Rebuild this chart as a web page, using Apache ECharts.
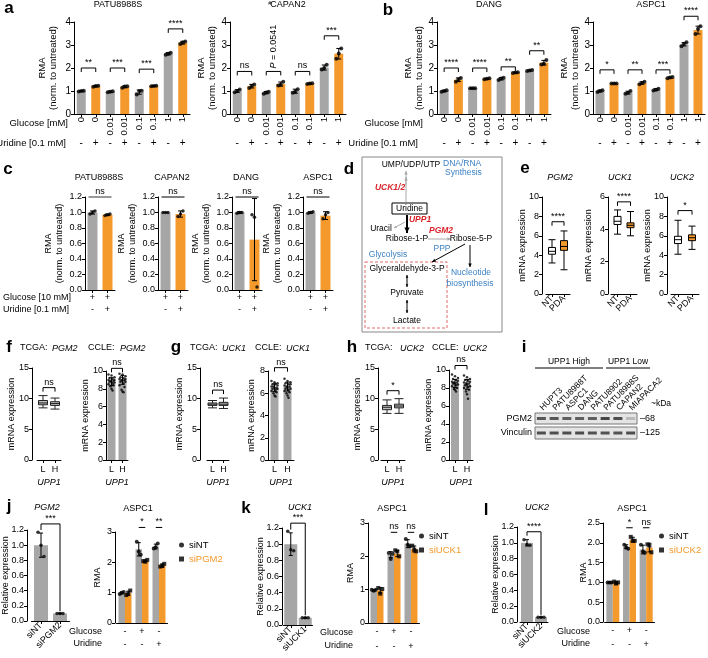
<!DOCTYPE html>
<html>
<head>
<meta charset="utf-8">
<script src="https://cdn.jsdelivr.net/npm/echarts@6/dist/echarts.min.js"></script>
<style>
html, body { margin: 0; padding: 0; background: #fff; }
#main { width: 708px; height: 658px; }
</style>
</head>
<body>
<div id="main"></div>
<script>
// ---------- data ----------
// a / b : RMA against glucose, +/- uridine
const glucoseCats = ['0', '0', '0.01', '0.01', '0.1', '0.1', '1', '1'];
const uridineSigns = ['-', '+', '-', '+', '-', '+', '-', '+'];

const patuMean = [1.00, 1.21, 0.97, 1.18, 0.95, 1.22, 2.62, 3.10];
const patuSd = [0.02, 0.03, 0.03, 0.04, 0.09, 0.02, 0.05, 0.06];
const patuPts = [[0.98, 1.00, 1.01], [1.18, 1.22, 1.23], [0.95, 0.97, 0.99], [1.14, 1.20, 1.21], [0.85, 1.00, 1.01], [1.21, 1.22, 1.23], [2.58, 2.62, 2.66], [3.04, 3.11, 3.15]];
const patuSig = [[0, 1, 2.0, '**'], [2, 3, 2.0, '***'], [4, 5, 1.95, '***'], [6, 7, 3.7, '****']];

const capanMean = [1.00, 1.21, 0.93, 1.30, 0.99, 1.32, 2.02, 2.62];
const capanSd = [0.06, 0.08, 0.05, 0.09, 0.09, 0.02, 0.11, 0.23];
const capanPts = [[0.95, 1.00, 1.06], [1.13, 1.22, 1.28], [0.88, 0.94, 0.97], [1.24, 1.28, 1.40], [0.92, 0.98, 1.08], [1.30, 1.33, 1.34], [1.93, 2.00, 2.14], [2.40, 2.63, 2.85]];
const capanSig = [[0, 1, 1.85, 'ns'], [2, 3, 1.85, 'P = 0.0541'], [4, 5, 1.85, 'ns'], [6, 7, 3.4, '***']];

const dangMean = [1.00, 1.49, 1.12, 1.53, 1.53, 1.80, 1.89, 2.23];
const dangSd = [0.03, 0.08, 0.01, 0.02, 0.05, 0.02, 0.02, 0.10];
const dangPts = [[0.97, 1.00, 1.03], [1.40, 1.50, 1.57], [1.12, 1.12, 1.12], [1.51, 1.53, 1.55], [1.48, 1.54, 1.58], [1.78, 1.80, 1.82], [1.87, 1.89, 1.91], [2.15, 2.18, 2.35]];
const dangSig = [[0, 1, 2.0, '****'], [2, 3, 2.0, '****'], [4, 5, 2.05, '**'], [6, 7, 2.75, '**']];

const aspcMean = [1.00, 1.33, 0.93, 1.35, 1.06, 1.58, 3.03, 3.65];
const aspcSd = [0.04, 0.01, 0.06, 0.05, 0.04, 0.03, 0.07, 0.17];
const aspcPts = [[0.96, 1.00, 1.03], [1.33, 1.33, 1.33], [0.88, 0.92, 1.00], [1.29, 1.35, 1.40], [1.02, 1.05, 1.10], [1.55, 1.59, 1.61], [2.95, 3.05, 3.12], [3.48, 3.70, 3.82]];
const aspcSig = [[0, 1, 1.92, '*'], [2, 3, 1.92, '**'], [4, 5, 1.92, '***'], [6, 7, 4.25, '****']];

// c : 10 mM glucose
const cGlucose = ['+', '+'];
const cUridine = ['-', '+'];
const cPatuMean = [1.00, 0.97], cPatuSd = [0.02, 0.01], cPatuPts = [[0.98, 1.00, 1.02], [0.96, 0.97, 0.98]];
const cCapanMean = [1.00, 0.98], cCapanSd = [0.00, 0.04], cCapanPts = [[1.00, 1.00, 1.00], [0.95, 0.98, 1.02]];
const cDangMean = [1.00, 0.65], cDangSd = [0.01, 0.53], cDangPts = [[0.99, 1.00, 1.00], [0.97, 0.94, 0.04]];
const cAspcMean = [1.00, 0.96], cAspcSd = [0.01, 0.05], cAspcPts = [[0.99, 1.00, 1.01], [0.92, 0.97, 1.00]];

// e : NT vs PDA box plots [min, q1, median, q3, max]
const ntPda = ['NT', 'PDA'];
const ePgm2 = [[3.2, 4.1, 4.4, 4.8, 5.6], [2.5, 4.5, 4.9, 5.5, 6.5]];
const eUck1 = [[3.7, 4.3, 4.5, 4.8, 5.2], [3.6, 4.1, 4.25, 4.4, 5.1]];
const eUck2 = [[4.1, 5.2, 5.6, 5.95, 7.6], [4.6, 5.5, 5.8, 6.1, 7.0]];

// f / g / h : TCGA box plots and CCLE bars, UPP1 low vs high
const lowHigh = ['L', 'H'];
const fTcga = [[8.5, 9.0, 9.3, 9.7, 10.5], [8.3, 8.9, 9.2, 9.5, 10.1]];
const gTcga = [[8.5, 8.9, 9.1, 9.3, 9.7], [8.4, 8.9, 9.1, 9.4, 10.1]];
const hTcga = [[7.6, 8.2, 8.6, 8.9, 9.8], [7.6, 8.5, 8.8, 9.1, 10.0]];
const fCcleMean = [8.8, 9.0], fCcleSd = [0.45, 0.5];
const fCclePts = [[9.6, 9.5, 9.3, 9.2, 9.1, 9.0, 9.0, 8.9, 8.9, 8.8, 8.8, 8.7, 8.6, 8.5, 8.4, 8.3, 8.0, 7.8],
                  [9.7, 9.6, 9.4, 9.3, 9.2, 9.1, 9.1, 9.0, 9.0, 8.9, 8.8, 8.8, 8.6, 8.4, 8.2, 7.9, 7.7, 7.6]];
const gCcleMean = [6.5, 6.6], gCcleSd = [0.35, 0.4];
const gCclePts = [[7.1, 7.0, 6.9, 6.8, 6.8, 6.7, 6.6, 6.6, 6.5, 6.5, 6.4, 6.4, 6.3, 6.2, 6.1, 6.0, 5.8, 5.7],
                  [7.3, 7.1, 7.0, 6.9, 6.8, 6.8, 6.7, 6.6, 6.6, 6.5, 6.4, 6.4, 6.3, 6.2, 6.1, 6.0, 5.8, 5.6]];
const hCcleMean = [8.5, 8.4], hCcleSd = [0.45, 0.55];
const hCclePts = [[9.5, 9.3, 9.1, 9.0, 8.9, 8.8, 8.7, 8.6, 8.6, 8.5, 8.5, 8.4, 8.3, 8.2, 8.0, 7.9, 7.8, 7.6],
                  [9.4, 9.2, 9.0, 8.9, 8.8, 8.7, 8.6, 8.5, 8.5, 8.4, 8.3, 8.2, 8.1, 8.0, 7.8, 7.6, 7.3, 6.8]];

// i : western blot band intensity (0..1)
const blotLanes = ['HUPT3', 'PATU8988T', 'ASPC1', 'DANG', 'PATU8902', 'PATU8988S', 'CAPAN2', 'MIAPACA2'];
const pgm2Band = [0.85, 0.85, 0.8, 0.8, 0.8, 0.95, 0.9, 0.25];
const vinculinBand = [0.9, 0.9, 0.9, 0.92, 0.88, 0.88, 0.88, 0.9];

// j / k / l : knockdown
const glucoseRow = ['-', '+', '-'];
const uridineRow = ['-', '-', '+'];
const jRelCats = ['siNT', 'siPGM2'], jRelMean = [1.00, 0.10], jRelSd = [0.16, 0.005], jRelPts = [[1.17, 1.00, 0.85], [0.10, 0.10, 0.10]];
const kRelCats = ['siNT', 'siUCK1'], kRelMean = [1.00, 0.09], kRelSd = [0.14, 0.005], kRelPts = [[1.16, 0.93, 0.92], [0.09, 0.09, 0.09]];
const lRelCats = ['siNT', 'siUCK2'], lRelMean = [1.00, 0.06], lRelSd = [0.04, 0.005], lRelPts = [[1.04, 0.98, 0.97], [0.06, 0.06, 0.06]];
const jNtMean = [0.99, 2.43, 2.52], jNtSd = [0.03, 0.22, 0.08], jNtPts = [[0.96, 1.00, 1.02], [2.68, 2.36, 2.25], [2.46, 2.50, 2.62]];
const jSiMean = [0.98, 2.05, 1.90], jSiSd = [0.07, 0.03, 0.05], jSiPts = [[0.92, 0.97, 1.07], [2.04, 2.02, 2.08], [1.86, 1.88, 1.95]];
const kNtMean = [0.98, 2.05, 2.38], kNtSd = [0.02, 0.09, 0.12], kNtPts = [[1.00, 0.97, 1.00], [2.10, 1.92, 2.08], [2.52, 2.35, 2.30]];
const kSiMean = [0.98, 2.08, 2.22], kSiSd = [0.08, 0.09, 0.09], kSiPts = [[1.05, 0.88, 1.02], [2.18, 2.15, 2.00], [2.32, 2.20, 2.15]];
const lNtMean = [1.00, 1.90, 1.83], lNtSd = [0.01, 0.05, 0.11], lNtPts = [[1.00, 1.00, 1.00], [1.95, 1.88, 1.85], [1.95, 1.78, 1.75]];
const lSiMean = [0.99, 2.08, 1.88], lSiSd = [0.03, 0.06, 0.11], lSiPts = [[1.02, 0.97, 1.00], [2.15, 2.05, 2.05], [1.96, 1.93, 1.76]];

// ---------- helpers ----------
const FONT = '"Liberation Sans", Arial, sans-serif';
const GRAY = '#a6a6a6', ORANGE = '#f49a2c', RED = '#d9232a', BLUE = '#3d82c4';
const jitterPx = [-3, 0, 3, -2, 1, 3, -3, -1, 2, 0, -2, 3, 1, -3, 2, -1, 0, 1];

const grid = [], xAxis = [], yAxis = [], series = [], legend = [], graphic = [];

function txt(x, y, text, o) {
  o = o || {};
  graphic.push({
    type: 'text', x: x, y: y, rotation: o.rot || 0, silent: true,
    style: {
      text: text, fill: o.color || '#000', fontSize: o.size || 9, fontFamily: FONT,
      fontWeight: o.weight || 'normal', fontStyle: o.style || 'normal',
      align: o.align || 'center', verticalAlign: o.valign || 'middle',
      textAlign: o.align || 'center', textVerticalAlign: o.valign || 'middle'
    }
  });
}
function line(x1, y1, x2, y2, color, lw, dash) {
  graphic.push({type: 'line', silent: true, shape: {x1, y1, x2, y2}, style: {stroke: color || '#000', lineWidth: lw || 1, lineDash: dash || null}});
}
function arrow(x1, y1, x2, y2, color, lw, head) {
  line(x1, y1, x2, y2, color, lw);
  const a = Math.atan2(y2 - y1, x2 - x1), h = head || 4;
  graphic.push({type: 'polygon', silent: true, shape: {points: [[x2, y2],
    [x2 - h * Math.cos(a - 0.45), y2 - h * Math.sin(a - 0.45)],
    [x2 - h * Math.cos(a + 0.45), y2 - h * Math.sin(a + 0.45)]]}, style: {fill: color || '#000'}});
}

function addGrid(l, t, w, h, extra) {
  grid.push(Object.assign({left: l, top: t, width: w, height: h, containLabel: false, outerBoundsMode: 'none'}, extra || {}));
  return grid.length - 1;
}
function baseAxis() {
  return {
    axisLine: {show: true, lineStyle: {color: '#000', width: 1}},
    axisTick: {show: true, length: 3, lineStyle: {color: '#000', width: 1}},
    splitLine: {show: false},
    axisLabel: {color: '#000', fontSize: 9, fontFamily: FONT, margin: 3},
    nameMoveOverlap: false
  };
}
function addX(gi, data, o) {
  o = o || {};
  const ax = baseAxis();
  Object.assign(ax, {type: 'category', gridIndex: gi, data: data, position: o.position || 'bottom'});
  ax.axisTick.alignWithLabel = true;
  ax.axisLabel.interval = 0;
  ax.axisLabel.rotate = o.rotate || 0;
  if (o.fontSize) ax.axisLabel.fontSize = o.fontSize;
  if (o.margin != null) ax.axisLabel.margin = o.margin;
  if (o.align) ax.axisLabel.align = o.align;
  if (o.valign) ax.axisLabel.verticalAlign = o.valign;
  if (o.offset) ax.offset = o.offset;
  if (o.noLine) { ax.axisLine.show = false; ax.axisTick.show = false; }
  if (o.noTick) ax.axisTick.show = false;
  if (o.name) {
    ax.name = o.name; ax.nameLocation = 'middle'; ax.nameGap = o.nameGap;
    ax.nameTextStyle = {fontSize: 9, fontFamily: FONT, color: '#000', fontStyle: 'italic'};
  }
  xAxis.push(ax);
  return xAxis.length - 1;
}
function addY(gi, min, max, step, o) {
  o = o || {};
  const ax = baseAxis();
  Object.assign(ax, {type: 'value', gridIndex: gi, min: min, max: max, interval: step, position: 'left'});
  if (o.fmt) ax.axisLabel.formatter = o.fmt;
  if (o.fontSize) ax.axisLabel.fontSize = o.fontSize;
  if (o.offset) ax.offset = o.offset;
  if (o.name) {
    ax.name = o.name; ax.nameLocation = 'middle'; ax.nameRotate = 90; ax.nameGap = o.nameGap;
    ax.nameTextStyle = {fontSize: o.nameSize || 9, fontFamily: FONT, color: '#000', lineHeight: 11};
  }
  yAxis.push(ax);
  return yAxis.length - 1;
}
function addYCat(gi, data, pos) {
  yAxis.push({type: 'category', gridIndex: gi, data: data, position: pos,
    axisLine: {show: false}, axisTick: {show: false}, splitLine: {show: false},
    axisLabel: {color: '#000', fontSize: 9, fontFamily: FONT, margin: 3}});
  return yAxis.length - 1;
}
function bars(xi, yi, vals, colors, width, extra) {
  series.push(Object.assign({
    type: 'bar', xAxisIndex: xi, yAxisIndex: yi, barWidth: width, silent: true, z: 2,
    data: vals.map((v, i) => ({value: v, itemStyle: {color: colors[i % colors.length]}}))
  }, extra || {}));
}
function dots(xi, yi, pts, dx, o) {
  o = o || {};
  const data = [];
  pts.forEach((arr, i) => arr.forEach((v, k) => {
    const j = o.jitter ? jitterPx[k % jitterPx.length] * o.jitter : (k - (arr.length - 1) / 2) * (o.spread || 2.5);
    data.push({value: [i, v], symbolOffset: [dx + j, 0]});
  }));
  series.push({type: 'scatter', name: o.name, xAxisIndex: xi, yAxisIndex: yi, symbol: o.symbol || 'circle',
    symbolSize: o.size || 3.5, itemStyle: {color: '#000'}, silent: true, z: 6, data: data});
}
function errs(xi, yi, means, sds, dx, cap) {
  series.push({
    type: 'custom', xAxisIndex: xi, yAxisIndex: yi, silent: true, z: 5, clip: false,
    encode: {x: 0, y: [1, 2]},
    data: means.map((m, i) => [i, Math.max(0, m - sds[i]), m + sds[i]]),
    renderItem: function (params, api) {
      const t = api.coord([api.value(0), api.value(2)]);
      const b = api.coord([api.value(0), api.value(1)]);
      const x = t[0] + dx, c = cap || 2;
      const st = () => ({stroke: '#000', lineWidth: 1});
      return {type: 'group', children: [
        {type: 'line', shape: {x1: x, y1: t[1], x2: x, y2: b[1]}, style: st()},
        {type: 'line', shape: {x1: x - c, y1: t[1], x2: x + c, y2: t[1]}, style: st()},
        {type: 'line', shape: {x1: x - c, y1: b[1], x2: x + c, y2: b[1]}, style: st()}
      ]};
    }
  });
}
// significance: [i1, i2, y, text, legLeftValue?, legRightValue?]
function sigs(xi, yi, list, o) {
  o = o || {};
  series.push({
    type: 'custom', xAxisIndex: xi, yAxisIndex: yi, silent: true, z: 7, clip: false,
    encode: {x: 0, y: 1},
    data: list.map(s => [s[0], s[2]]),
    renderItem: function (params, api) {
      const s = list[params.dataIndex];
      const a = api.coord([s[0], s[2]]), b = api.coord([s[1], s[2]]);
      const sp = o.spread || 0, x1 = a[0] - sp, x2 = b[0] + sp, y = a[1];
      const leg = o.leg || 0;
      const yl = s[4] != null ? api.coord([s[0], s[4]])[1] : y + leg;
      const yr = s[5] != null ? api.coord([s[1], s[5]])[1] : y + leg;
      const kids = [{type: 'polyline', shape: {points: [[x1, yl], [x1, y], [x2, y], [x2, yr]]},
        style: {stroke: o.color || '#000', lineWidth: o.lw || 1, fill: null}}];
      if (s[3].indexOf('P =') === 0) {
        kids.push({type: 'text', x: (x1 + x2) / 2, y: y - 3, rotation: Math.PI / 2,
          style: {text: '{i|P}' + s[3].slice(1), fontSize: 9, fontFamily: FONT, fill: '#000',
            align: 'left', verticalAlign: 'middle', textAlign: 'left', textVerticalAlign: 'middle',
            rich: {i: {fontStyle: 'italic', fontSize: 9, fontFamily: FONT}}}});
      } else {
        kids.push({type: 'text', x: (x1 + x2) / 2, y: y - 1,
          style: {text: s[3], fontSize: 9, fontFamily: FONT, fill: '#000',
            align: 'center', verticalAlign: 'bottom', textAlign: 'center', textVerticalAlign: 'bottom'}});
      }
      return {type: 'group', children: kids};
    }
  });
}
function boxes(xi, yi, data, fills, w, border) {
  series.push({type: 'boxplot', xAxisIndex: xi, yAxisIndex: yi, boxWidth: [w, w], silent: true, z: 3,
    data: data.map((d, i) => ({value: d, itemStyle: {color: fills[i], borderColor: border || '#000', borderWidth: 1}}))});
}
const fmt1 = v => v.toFixed(1);

// ---------- a / b ----------
function glucosePanel(left, width, mean, sd, pts, sig, gap) {
  const gi = addGrid(left, 22, width, 92);
  const xi = addX(gi, glucoseCats, {rotate: 90, fontSize: 9.5, margin: 3});
  addX(gi, uridineSigns, {noLine: true, offset: 24, margin: 0, fontSize: 10});
  const yi = addY(gi, 0, 4, 1, {fontSize: 10, name: 'RMA\n(norm. to untreated)', nameGap: gap, nameSize: 9.5});
  bars(xi, yi, mean, [GRAY, ORANGE], 9);
  errs(xi, yi, mean, sd, 0, 2.5);
  dots(xi, yi, pts, 0, {spread: 2.5, size: 4});
  sigs(xi, yi, sig, {leg: 4});
}
glucosePanel(74, 116, patuMean, patuSd, patuPts, patuSig, 15);
glucosePanel(230, 116, capanMean, capanSd, capanPts, capanSig, 12);
glucosePanel(437, 114, dangMean, dangSd, dangPts, dangSig, 12);
glucosePanel(593, 112, aspcMean, aspcSd, aspcPts, aspcSig, 12);
txt(9, 8, 'a', {size: 17, weight: 'bold'});
txt(388, 10, 'b', {size: 17, weight: 'bold'});
txt(118, 5, 'PATU8988S');
txt(270, 3, '#', {size: 6});
txt(288, 5, 'CAPAN2');
txt(489, 5, 'DANG');
txt(651, 5, 'ASPC1');
txt(68, 123, 'Glucose [mM]', {align: 'right', size: 9.5});
txt(66, 143, 'Uridine [0.1 mM]', {align: 'right', size: 9.5});
txt(423, 123, 'Glucose [mM]', {align: 'right', size: 9.5});
txt(418, 143, 'Uridine [0.1 mM]', {align: 'right', size: 9.5});

// ---------- c ----------
function cPanel(left, mean, sd, pts, lineColor, lw) {
  const gi = addGrid(left, 197, 30, 93);
  const xi = addX(gi, cGlucose, {margin: 3});
  addX(gi, cUridine, {noLine: true, offset: 15, margin: 0});
  const yi = addY(gi, 0, 1.2, 0.2, {fmt: fmt1, name: 'RMA\n(norm. to untreated)', nameGap: 20});
  bars(xi, yi, mean, [GRAY, ORANGE], 10);
  errs(xi, yi, mean, sd, 0, 2.5);
  dots(xi, yi, pts, 0, {spread: 2.5});
  sigs(xi, yi, [[0, 1, 1.2, 'ns']], {spread: 4, color: lineColor, lw: lw});
}
cPanel(85, cPatuMean, cPatuSd, cPatuPts, '#999', 2);
cPanel(158, cCapanMean, cCapanSd, cCapanPts, '#000', 1);
cPanel(232, cDangMean, cDangSd, cDangPts, '#000', 1);
cPanel(303, cAspcMean, cAspcSd, cAspcPts, '#000', 1);
txt(8, 169, 'c', {size: 17, weight: 'bold'});
txt(99, 178, 'PATU8988S');
txt(172, 178, 'CAPAN2');
txt(246, 178, 'DANG');
txt(318, 178, 'ASPC1');
txt(3, 298, 'Glucose [10 mM]', {align: 'left'});
txt(3, 310, 'Uridine [0.1 mM]', {align: 'left'});

// ---------- d (pathway schematic) ----------
txt(349, 169, 'd', {size: 17, weight: 'bold'});
graphic.push({type: 'rect', silent: true, shape: {x: 362, y: 157, width: 140, height: 175}, style: {stroke: '#888', fill: null, lineWidth: 1}});
txt(411, 165, 'UMP/UDP/UTP', {size: 8.5});
txt(443, 164, 'DNA/RNA', {size: 8.5, color: BLUE, align: 'left'});
txt(445, 173, 'Synthesis', {size: 8.5, color: BLUE, align: 'left'});
txt(390, 188, 'UCK1/2', {size: 8.5, color: RED, weight: 'bold', style: 'italic'});
arrow(406, 202, 406, 171, '#aaa', 1, 4);
arrow(406, 185, 406, 177, '#aaa', 1, 4);
graphic.push({type: 'rect', silent: true, shape: {x: 392, y: 203, width: 35, height: 11}, style: {stroke: '#000', fill: '#fff', lineWidth: 1}});
txt(409.5, 208.5, 'Uridine', {size: 8.5});
txt(420, 220, 'UPP1', {size: 8.5, color: RED, weight: 'bold', style: 'italic'});
arrow(407, 215, 407, 233, '#000', 2, 6);
txt(381, 229, 'Uracil', {size: 8.5});
arrow(405, 222, 394, 228, '#aaa', 1, 3);
txt(407, 239, 'Ribose-1-P', {size: 8.5});
txt(441, 231, 'PGM2', {size: 8.5, color: RED, weight: 'bold', style: 'italic'});
arrow(428, 239, 451, 239, '#aaa', 1, 4);
txt(471, 239, 'Ribose-5-P', {size: 8.5});
txt(442, 249, 'PPP', {size: 8.5, color: BLUE});
txt(388, 255, 'Glycolysis', {size: 8.5, color: BLUE});
graphic.push({type: 'rect', silent: true, shape: {x: 365, y: 262, width: 82, height: 66}, style: {stroke: '#e06a6a', fill: null, lineWidth: 1, lineDash: [3, 2]}});
arrow(465, 244, 432, 262, '#000', 1, 4);
arrow(470, 245, 470, 267, '#000', 1, 4);
txt(407, 269, 'Glyceraldehyde-3-P', {size: 8.5});
txt(471, 273, 'Nucleotide', {size: 8.5, color: BLUE});
txt(470, 284, 'biosynthesis', {size: 8.5, color: BLUE});
arrow(407, 281, 407, 287, '#000', 1, 3);
arrow(407, 281, 407, 275, '#000', 1, 3);
txt(407, 293, 'Pyruvate', {size: 8.5});
arrow(407, 307, 407, 313, '#000', 1, 3);
arrow(407, 307, 407, 300, '#000', 1, 3);
txt(407, 321, 'Lactate', {size: 8.5});

// ---------- e ----------
function ePanel(left, width, offset, ymax, step, data, sig) {
  const gi = addGrid(left, 197, width, 97);
  const xi = addX(gi, ntPda, {rotate: 45, margin: 3});
  const yi = addY(gi, 0, ymax, step, {offset: offset, name: 'mRNA expression', nameGap: 14});
  boxes(xi, yi, data, ['#fff', ORANGE], 7);
  sigs(xi, yi, [sig], {leg: 4});
}
ePanel(546, 24, 4, 10, 2, ePgm2, [0, 1, 7.45, '****']);
ePanel(611, 26, 3, 6, 2, eUck1, [0, 1, 5.7, '****']);
ePanel(671, 28, 4, 10, 2, eUck2, [0, 1, 8.6, '*']);
txt(525, 168, 'e', {size: 17, weight: 'bold'});
txt(560, 177, 'PGM2', {style: 'italic'});
txt(620, 177, 'UCK1', {style: 'italic'});
txt(682, 177, 'UCK2', {style: 'italic'});

// ---------- f / g / h ----------
function tcgaPanel(left, width, offset, data, sig) {
  const gi = addGrid(left, 368, width, 92);
  const xi = addX(gi, lowHigh, {margin: 5, name: 'UPP1', nameGap: 18});
  const yi = addY(gi, 0, 15, 5, {offset: offset, name: 'mRNA expression', nameGap: 15});
  boxes(xi, yi, data, ['#bdbdbd', '#bdbdbd'], 9, '#222');
  sigs(xi, yi, [sig], {leg: 4});
}
function cclePanel(left, width, top, ymax, mean, sd, pts, sig) {
  const gi = addGrid(left, top, width, 460 - top);
  const xi = addX(gi, lowHigh, {margin: 5, name: 'UPP1', nameGap: 18});
  const yi = addY(gi, 0, ymax, 2, {name: 'mRNA expression', nameGap: ymax >= 10 ? 15 : 11});
  bars(xi, yi, mean, [GRAY, GRAY], 8);
  dots(xi, yi, pts, 0, {jitter: 1, size: 2.5});
  errs(xi, yi, mean, sd, 0, 2);
  sigs(xi, yi, [sig], {leg: 4});
}
tcgaPanel(37, 24, 5, fTcga, [0, 1, 11.8, 'ns']);
cclePanel(106, 22, 371, 10, fCcleMean, fCcleSd, fCclePts, [0, 1, 10.3, 'ns']);
tcgaPanel(207, 22, 7, gTcga, [0, 1, 11.4, 'ns']);
cclePanel(268, 26, 371, 8, gCcleMean, gCcleSd, gCclePts, [0, 1, 8.3, 'ns']);
tcgaPanel(381, 24, 3, hTcga, [0, 1, 11.3, '*']);
cclePanel(449, 24, 370, 10, hCcleMean, hCcleSd, hCclePts, [0, 1, 10.5, 'ns']);
txt(9, 347, 'f', {size: 17, weight: 'bold'});
txt(176, 347, 'g', {size: 17, weight: 'bold'});
txt(352, 347, 'h', {size: 17, weight: 'bold'});
[[20, 52, 'PGM2'], [88, 120, 'PGM2'], [190, 222, 'UCK1'], [255, 286, 'UCK1'], [365, 400, 'UCK2'], [432, 463, 'UCK2']].forEach((t, k) => {
  txt(t[0], 348, k % 2 === 0 ? 'TCGA:' : 'CCLE:', {align: 'left'});
  txt(t[1], 348, t[2], {align: 'left', style: 'italic'});
});

// ---------- i (blot) ----------
function blotStrip(top, h, band, name, kda, showLanes) {
  const gi = addGrid(535, top, 102, h, {show: true, backgroundColor: '#e4e4e4', borderColor: '#777', borderWidth: 1});
  const xi = showLanes
    ? addX(gi, blotLanes, {position: 'top', rotate: -45, noLine: true, margin: 4, fontSize: 8.5, align: 'left', valign: 'middle'})
    : addX(gi, blotLanes, {noLine: true});
  if (!showLanes) xAxis[xi].axisLabel.show = false;
  const yi = addYCat(gi, [name], 'left');
  addYCat(gi, [kda], 'right');
  series.push({type: 'scatter', xAxisIndex: xi, yAxisIndex: yi, symbol: 'rect', symbolSize: [9, 3], silent: true,
    data: band.map((v, i) => ({value: [i, 0], itemStyle: {color: 'rgba(20,20,20,' + v + ')'}}))});
}
blotStrip(413, 11, pgm2Band, 'PGM2', '–68', true);
blotStrip(427, 12, vinculinBand, 'Vinculin', '–125', false);
txt(524, 347, 'i', {size: 17, weight: 'bold'});
txt(569, 362, 'UPP1 High', {size: 8.5});
txt(628, 362, 'UPP1 Low', {size: 8.5});
line(535, 368, 603, 368);
line(606, 368, 650, 368);
txt(651, 404, '~kDa', {size: 8.5, align: 'left'});

// ---------- j / k / l ----------
function relPanel(left, top, width, h, offset, cats, mean, sd, pts, sig, bw) {
  const gi = addGrid(left, top, width, h);
  const xi = addX(gi, cats, {rotate: 45, margin: 3});
  const yi = addY(gi, 0, 1.2, 0.2, {fmt: fmt1, offset: offset, name: 'Relative expression', nameGap: 16});
  bars(xi, yi, mean, [GRAY, GRAY], bw);
  errs(xi, yi, mean, sd, 0, 2);
  dots(xi, yi, pts, 0, {spread: 3});
  sigs(xi, yi, [sig], {});
}
function koPanel(o) {
  const gi = addGrid(o.left, o.top, o.width, o.h);
  const xi = addX(gi, glucoseRow, {margin: 4, noTick: true});
  addX(gi, uridineRow, {noLine: true, offset: o.rowOff, margin: 0});
  const yi = addY(gi, 0, o.ymax, o.step, {fmt: o.fmt, offset: o.offset, name: 'RMA', nameGap: o.gap});
  bars(xi, yi, o.ntMean, [GRAY], 6.5, {barGap: '0%'});
  bars(xi, yi, o.siMean, [ORANGE], 6.5, {barGap: '0%'});
  errs(xi, yi, o.ntMean, o.ntSd, -3.25, 2);
  errs(xi, yi, o.siMean, o.siSd, 3.25, 2);
  dots(xi, yi, o.ntPts, -3.25, {spread: 2, size: 4, name: 'siNT', symbol: 'circle'});
  dots(xi, yi, o.siPts, 3.25, {spread: 2, size: 4, name: o.siName, symbol: 'rect'});
  sigs(xi, yi, o.sig, {spread: 3.25});
  legend.push({left: o.legX, top: o.legY, orient: 'vertical', itemWidth: 5, itemHeight: 5, itemGap: 4,
    selectedMode: false, textStyle: {fontSize: 9.5, fontFamily: FONT, color: '#000'},
    data: [{name: 'siNT', icon: 'circle', itemStyle: {color: '#000'}},
           {name: o.siName, icon: 'rect', itemStyle: {color: '#000'}, textStyle: {color: ORANGE}}]});
}
relPanel(31.5, 530, 38, 91, 4.5, jRelCats, jRelMean, jRelSd, jRelPts, [0, 1, 1.28, '***', 1.2, 0.13], 14);
koPanel({left: 116.5, top: 532, width: 51, h: 91, offset: 1.5, ymax: 3, step: 1, gap: 12, rowOff: 17,
  ntMean: jNtMean, ntSd: jNtSd, ntPts: jNtPts, siMean: jSiMean, siSd: jSiSd, siPts: jSiPts, siName: 'siPGM2',
  sig: [[1, 1, 3.15, '*'], [2, 2, 3.15, '**']], legX: 174, legY: 535});
relPanel(283.5, 528, 29, 97, 1.5, kRelCats, kRelMean, kRelSd, kRelPts, [0, 1, 1.26, '***', 1.18, 0.12], 13);
koPanel({left: 368.5, top: 523, width: 51, h: 100, offset: 0.5, ymax: 3, step: 1, gap: 12, rowOff: 19,
  ntMean: kNtMean, ntSd: kNtSd, ntPts: kNtPts, siMean: kSiMean, siSd: kSiSd, siPts: kSiPts, siName: 'siUCK1',
  sig: [[1, 1, 2.72, 'ns'], [2, 2, 2.72, 'ns']], legX: 414, legY: 526});
relPanel(520, 527, 28, 95, 3, lRelCats, lRelMean, lRelSd, lRelPts, [0, 1, 1.14, '****', 1.09, 0.09], 12);
koPanel({left: 604.5, top: 523, width: 50, h: 99, offset: 1.5, ymax: 2.5, step: 0.5, fmt: fmt1, gap: 14, rowOff: 18,
  ntMean: lNtMean, ntSd: lNtSd, ntPts: lNtPts, siMean: lSiMean, siSd: lSiSd, siPts: lSiPts, siName: 'siUCK2',
  sig: [[1, 1, 2.38, '*'], [2, 2, 2.38, 'ns']], legX: 654, legY: 526});
txt(9, 506, 'j', {size: 17, weight: 'bold'});
txt(246, 508, 'k', {size: 17, weight: 'bold'});
txt(486, 510, 'l', {size: 17, weight: 'bold'});
txt(47, 507, 'PGM2', {style: 'italic'});
txt(138, 509, 'ASPC1');
txt(300, 507, 'UCK1', {style: 'italic'});
txt(392, 509, 'ASPC1');
txt(537, 507, 'UCK2', {style: 'italic'});
txt(632, 509, 'ASPC1');
txt(102, 632, 'Glucose', {align: 'right'});
txt(102, 644, 'Uridine', {align: 'right'});
txt(353, 633, 'Glucose', {align: 'right'});
txt(353, 646, 'Uridine', {align: 'right'});
txt(590, 632, 'Glucose', {align: 'right'});
txt(590, 644, 'Uridine', {align: 'right'});

// ---------- chart ----------
const chart = echarts.init(document.getElementById('main'), null, {renderer: 'canvas', width: 708, height: 658});
chart.setOption({
  backgroundColor: '#ffffff',
  animation: false,
  textStyle: {fontFamily: FONT},
  grid: grid,
  xAxis: xAxis,
  yAxis: yAxis,
  legend: legend,
  series: series,
  graphic: {elements: graphic}
});
</script>
</body>
</html>
